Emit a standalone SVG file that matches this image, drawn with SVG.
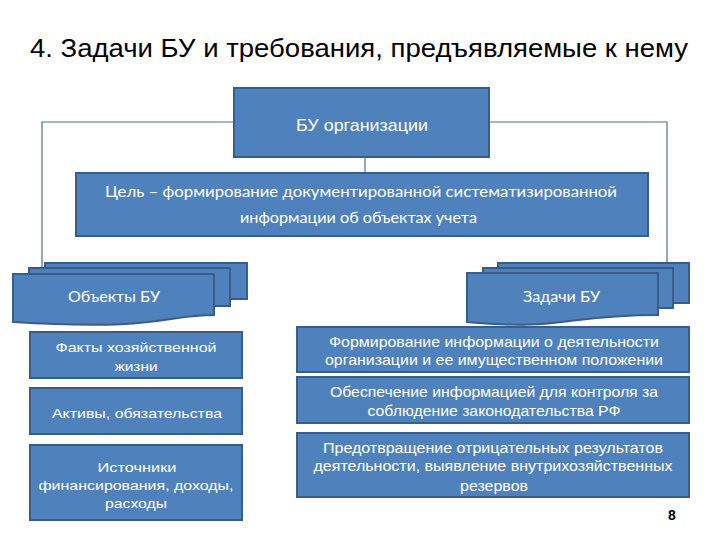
<svg xmlns="http://www.w3.org/2000/svg" width="720" height="540" viewBox="0 0 720 540">
<style>
.box{fill:#4F81BD;stroke:#385D8A;stroke-width:2}
.conn{fill:none;stroke:#4D6F96;stroke-width:1.2}
.ta{font-family:"Liberation Sans",Arial,sans-serif;fill:#ffffff;text-anchor:middle}
.tc{font-family:Lato,"Open Sans",sans-serif;fill:#ffffff}
</style>
<rect width="720" height="540" fill="#ffffff"/>
<text x="30" y="57" font-family="Liberation Sans, Arial, sans-serif" font-size="25" fill="#000000" textLength="658" lengthAdjust="spacingAndGlyphs">4. Задачи БУ и требования, предъявляемые к нему</text>

<g id="connectors">
<polyline class="conn" points="234,122 42,122 42,268"/>
<polyline class="conn" points="489,122 667,122 667,263"/>
<line class="conn" x1="365" y1="157" x2="365" y2="173"/>
</g>

<g id="node-bu">
<rect class="box" x="234" y="88" width="255" height="69"/>
<text class="ta" x="362" y="131" font-size="17" textLength="132" lengthAdjust="spacingAndGlyphs">БУ организации</text>
</g>

<g id="node-goal">
<rect class="box" x="76" y="173" width="572" height="63"/>
<text class="tc" x="105" y="197" font-size="15.5" textLength="512" lengthAdjust="spacingAndGlyphs">Цель – формирование документированной систематизированной</text>
<text class="tc" x="240" y="223" font-size="15.5" textLength="237" lengthAdjust="spacingAndGlyphs">информации об объектах учета</text>
</g>

<g id="node-objects">
<rect class="box" x="45" y="263" width="202" height="36"/>
<rect class="box" x="29" y="268" width="201" height="38"/>
<path class="box" d="M13,274 H214 V315 C163,315 163,331 13,322 Z"/>
<text class="tc" x="68" y="302" font-size="15" textLength="92" lengthAdjust="spacingAndGlyphs">Объекты БУ</text>
</g>

<g id="node-tasks">
<rect class="box" x="498" y="263" width="191" height="40"/>
<rect class="box" x="483" y="268" width="190" height="40"/>
<path class="box" d="M467,273 H658 V315 C562,315 562,331 467,322 Z"/>
<text class="tc" x="523" y="302" font-size="15" textLength="77" lengthAdjust="spacingAndGlyphs">Задачи БУ</text>
</g>

<g id="node-facts">
<rect class="box" x="30" y="332" width="212" height="46"/>
<text class="ta" x="136" y="352" font-size="13.5" textLength="161" lengthAdjust="spacingAndGlyphs">Факты хозяйственной</text>
<text class="ta" x="136" y="370.5" font-size="13.5" textLength="43" lengthAdjust="spacingAndGlyphs">жизни</text>
</g>

<g id="node-assets">
<rect class="box" x="30" y="388" width="212" height="46"/>
<text class="ta" x="137" y="418" font-size="13.5" textLength="170" lengthAdjust="spacingAndGlyphs">Активы, обязательства</text>
</g>

<g id="node-sources">
<rect class="box" x="30" y="445" width="212" height="75"/>
<text class="ta" x="137" y="471.5" font-size="13.5" textLength="79" lengthAdjust="spacingAndGlyphs">Источники</text>
<text class="ta" x="136" y="489.5" font-size="13.5" textLength="195" lengthAdjust="spacingAndGlyphs">финансирования, доходы,</text>
<text class="ta" x="136" y="507.5" font-size="13.5" textLength="62" lengthAdjust="spacingAndGlyphs">расходы</text>
</g>

<g id="node-task1">
<rect class="box" x="297" y="327" width="392" height="45"/>
<text class="ta" x="494" y="346.5" font-size="14" textLength="330" lengthAdjust="spacingAndGlyphs">Формирование информации о деятельности</text>
<text class="ta" x="494" y="364.5" font-size="14" textLength="338" lengthAdjust="spacingAndGlyphs">организации и ее имущественном положении</text>
</g>

<g id="node-task2">
<rect class="box" x="297" y="377" width="392" height="46"/>
<text class="ta" x="494" y="396.5" font-size="14" textLength="328" lengthAdjust="spacingAndGlyphs">Обеспечение информацией для контроля за</text>
<text class="ta" x="494" y="415.5" font-size="14" textLength="253" lengthAdjust="spacingAndGlyphs">соблюдение законодательства РФ</text>
</g>

<g id="node-task3">
<rect class="box" x="297" y="433" width="392" height="64"/>
<text class="ta" x="493" y="452.5" font-size="14" textLength="340" lengthAdjust="spacingAndGlyphs">Предотвращение отрицательных результатов</text>
<text class="ta" x="493" y="470.5" font-size="14" textLength="359" lengthAdjust="spacingAndGlyphs">деятельности, выявление внутрихозяйственных</text>
<text class="ta" x="494" y="490.5" font-size="14" textLength="68" lengthAdjust="spacingAndGlyphs">резервов</text>
</g>

<text x="672" y="520" font-family="Liberation Sans, Arial, sans-serif" font-size="14" font-weight="bold" fill="#000000" text-anchor="middle">8</text>
</svg>
